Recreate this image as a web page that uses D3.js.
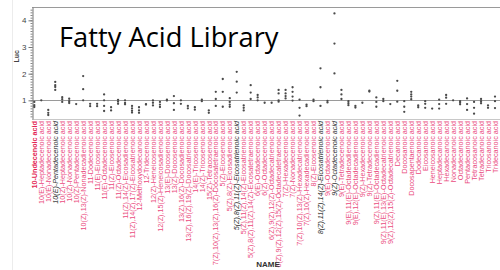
<!DOCTYPE html>
<html lang="en">
<head>
<meta charset="UTF-8">
<title>Fatty Acid Library</title>
<style>
  body { margin: 0; background: #fff; }
  svg { display: block; }
</style>
</head>
<body>
<svg id="chart" width="500" height="270"></svg>
<script src="https://cdn.jsdelivr.net/npm/d3@7"></script>
<script>
// fatty acids, in the order of the x axis
const names = [
  "10-Undecenoic acid", "10(E)-Heptadecenoic acid", "10(E)-Nonadecenoic acid", "10(E)-Pentadecenoic acid",
  "10(Z)-Heptadecenoic acid", "10(Z)-Nonadecenoic acid", "10(Z)-Pentadecenoic acid", "10(Z),13(Z)-Nonadecadienoic acid",
  "11-Dodecenoic acid", "11(E)-Eicosenoic acid", "11(E)-Octadecenoic acid", "11(Z)-Eicosenoic acid",
  "11(Z)-Octadecenoic acid", "11(Z),14(Z)-Eicosadienoic acid", "11(Z),14(Z),17(Z)-Eicosatrienoic acid", "12-Methoxydodecanoic acid",
  "12-Tridecenoic acid", "12(Z)-Heneicosenoic acid", "12(Z),15(Z)-Heneicosadienoic acid", "13(E)-Docosenoic acid",
  "13(Z)-Docosenoic acid", "13(Z),16(Z)-Docosadienoic acid", "13(Z),16(Z),19(Z)-Docosatrienoic acid", "14(E)-Tricosenoic acid",
  "14(Z)-Tricosenoic acid", "15(Z)-Tetracosenoic acid", "7(Z),10(Z),13(Z),16(Z)-Docosatetraenoic acid", "5(Z)-Eicosenoic acid",
  "5(Z),8(Z)-Eicosadienoic acid", "5(Z),8(Z),11(Z)-Eicosatrienoic acid", "5(Z),11(Z),14(Z)-Eicosatrienoic acid", "5(Z),8(Z),11(Z),14(Z)-Eicosatetraenoic acid",
  "6(E)-Octadecenoic acid", "6(Z)-Octadecenoic acid", "6(Z),9(Z),12(Z)-Octadecatrienoic acid", "6(Z),9(Z),12(Z),15(Z)-Octadecatetraenoic acid",
  "7(Z)-Hexadecenoic acid", "7(Z)-Nonadecenoic acid", "7(Z),10(Z),13(Z)-Hexadecatrienoic acid", "7(Z),10(Z)-Hexadecadienoic acid",
  "8(Z)-Eicosenoic acid", "8(Z),11(Z),14(Z)-Eicosatrienoic acid", "9(E)-Octadecenoic acid", "9(Z)-Octadecenoic acid",
  "9(E)-Tetradecenoic acid", "9(E),11(E)-Octadecadienoic acid", "9(E),12(E)-Octadecadienoic acid", "9(Z)-Hexadecenoic acid",
  "9(Z)-Tetradecenoic acid", "9(Z),11(E)-Octadecadienoic acid", "9(Z),11(E),13(E)-Octadecatrienoic acid", "9(Z),12(Z),15(Z)-Octadecatrienoic acid",
  "Decanoic acid", "Docosanoic acid", "Docosapentaenoic acid", "Dodecanoic acid",
  "Eicosanoic acid", "Heneicosanoic acid", "Heptadecanoic acid", "Hexadecanoic acid",
  "Nonadecanoic acid", "Octadecanoic acid", "Pentadecanoic acid", "Tetracosanoic acid",
  "Tetradecanoic acid", "Tricosanoic acid", "Tridecanoic acid"
];

// replicate Luc readings for each fatty acid (same order as names)
const luc = [
  [0.94, 0.82, 0.75], [1.0], [0.64, 0.53, 0.45], [1.69, 1.57, 1.5, 1.39],
  [1.12, 1.04, 0.94], [1.06, 0.97, 0.9], [0.86], [1.91, 1.42, 1.0],
  [0.87, 0.78], [0.87, 0.78], [1.22, 1.0, 0.79, 0.6], [0.74, 0.62],
  [1.02, 0.95, 0.87], [1.0, 0.9, 0.85], [0.79, 0.7, 0.61, 0.54], [0.74, 0.62, 0.53],
  [0.86, 0.84], [1.0, 0.91, 0.81], [0.94, 0.84, 0.75], [1.03, 0.99],
  [1.16, 0.89, 0.64], [1.0, 0.87], [0.79, 0.7], [0.74, 0.65],
  [1.03, 0.97], [0.62, 0.53], [1.32, 1.05, 0.79], [1.8, 1.32, 0.76],
  [1.08, 0.94, 0.84, 0.76], [2.07, 1.7, 1.29], [0.81, 0.72, 0.62], [1.57, 1.29, 1.05],
  [1.2, 1.11, 1.0], [0.91], [0.91], [1.39, 1.26, 1.0, 0.95],
  [1.39, 1.26, 1.16, 1.07], [1.49, 1.32, 1.14, 0.99], [1.03, 0.72, 0.43], [0.84, 0.78],
  [1.03, 0.97], [2.2, 1.49, 0.79], [0.98, 0.92], [4.26, 3.13, 2.01],
  [1.39, 1.22, 1.05], [0.97, 0.89, 0.82], [0.79, 0.73], [0.91],
  [1.36, 1.33], [1.11, 0.94, 0.76], [1.05, 0.97], [0.86],
  [1.73, 1.36, 0.95], [0.97, 0.76, 0.57], [1.32, 1.22, 1.14, 1.04], [0.81, 0.74],
  [0.97, 0.87, 0.72], [0.69], [1.03, 0.86, 0.69], [1.2, 1.1, 0.87],
  [1.0], [0.97, 0.91, 0.85], [1.07, 0.86, 0.64], [0.94, 0.72, 0.5],
  [1.05, 0.97, 0.89], [0.81, 0.72], [1.14, 0.97, 0.71]
];

// labels drawn in black (hits)
const hits = [
  "10(E)-Pentadecenoic acid", "5(Z),8(Z),11(Z)-Eicosatrienoic acid",
  "8(Z),11(Z),14(Z)-Eicosatrienoic acid", "9(Z)-Octadecenoic acid"
];
const control = "10-Undecenoic acid";

const yTicks = [1, 2, 3, 4];
const baseline = 1;

const svg = d3.select("#chart");
const plotTop = 7, plotBottom = 119, plotLeft = 32, plotRight = 500;

let x = d3.scalePoint()
  .domain(names)
  .range([34.3, 495]);
let y = d3.scaleLinear()
  .domain([0.3, 4.5])
  .range([plotBottom, plotTop]);

// faint panel edge on the left
svg.append("line")
  .attr("x1", 12.5).attr("x2", 12.5).attr("y1", 0).attr("y2", 270)
  .attr("stroke", "#ececec");

// frame
svg.append("line")
  .attr("x1", plotLeft).attr("x2", plotRight).attr("y1", plotTop + 0.5).attr("y2", plotTop + 0.5)
  .attr("stroke", "#9a9a9a");
svg.append("line")
  .attr("x1", plotLeft).attr("x2", plotRight).attr("y1", plotBottom + 0.5).attr("y2", plotBottom + 0.5)
  .attr("stroke", "#c8c8c8");

// reference line at 1
svg.append("line")
  .attr("x1", plotLeft).attr("x2", plotRight)
  .attr("y1", Math.round(y(baseline)) + 0.5).attr("y2", Math.round(y(baseline)) + 0.5)
  .attr("stroke", "#9a9a9a");

// y axis, minor then major ticks
let minor = svg.append("g")
  .attr("transform", "translate(" + (plotLeft + 0.5) + ",0)")
  .call(d3.axisLeft(y).tickValues(d3.range(4, 45).map(d => d / 10)).tickSize(2).tickFormat(""));
minor.select(".domain").remove();
minor.selectAll("line").attr("stroke", "#888");

let yAxis = svg.append("g")
  .attr("transform", "translate(" + (plotLeft + 0.5) + ",0)")
  .call(d3.axisLeft(y).tickValues(yTicks).tickSize(4).tickPadding(2).tickSizeOuter(0).tickFormat(d3.format("d")));
yAxis.select(".domain").attr("stroke", "#777");
yAxis.selectAll("line").attr("stroke", "#777");
yAxis.selectAll("text")
  .style("font-family", "Liberation Sans, Arial, sans-serif")
  .style("font-size", "8px")
  .attr("fill", "#444");

svg.append("text")
  .attr("transform", "translate(18.5," + y(2.65) + ") rotate(-90)")
  .attr("text-anchor", "middle")
  .style("font-family", "Liberation Sans, Arial, sans-serif")
  .style("font-size", "7px")
  .style("font-weight", "bold")
  .attr("fill", "#444")
  .text("Luc");

// replicate points
let points = [];
names.forEach((n, i) => luc[i].forEach(v => points.push({ name: n, val: v })));
svg.selectAll(".pt")
  .data(points)
  .enter()
  .append("circle")
  .attr("class", "pt")
  .attr("cx", d => x(d.name))
  .attr("cy", d => y(d.val))
  .attr("r", 1.15)
  .attr("fill", "#4a4a4a");

// category labels, rotated
svg.selectAll(".lab")
  .data(names)
  .enter()
  .append("text")
  .attr("class", "lab")
  .attr("transform", d => "translate(" + (x(d) + 2.7) + "," + (plotBottom + 2) + ") rotate(-90)")
  .attr("text-anchor", "end")
  .style("font-family", "Liberation Sans, Arial, sans-serif")
  .style("font-size", "7.2px")
  .style("font-style", d => hits.includes(d) ? "italic" : "normal")
  .style("font-weight", d => d == control ? "bold" : "normal")
  .attr("fill", d => hits.includes(d) ? "#333" : (d == control ? "#e3234f" : "#ea4a7e"))
  .text(d => d);

svg.append("text")
  .attr("x", 268).attr("y", 267)
  .attr("text-anchor", "middle")
  .style("font-family", "Liberation Sans, Arial, sans-serif")
  .style("font-size", "8px")
  .style("font-weight", "bold")
  .attr("fill", "#333")
  .text("NAME");

// overlay title
svg.append("text")
  .attr("x", 59).attr("y", 47)
  .style("font-family", "Open Sans, sans-serif")
  .style("font-size", "27.3px")
  .attr("fill", "#000")
  .text("Fatty Acid Library");
</script>
</body>
</html>
